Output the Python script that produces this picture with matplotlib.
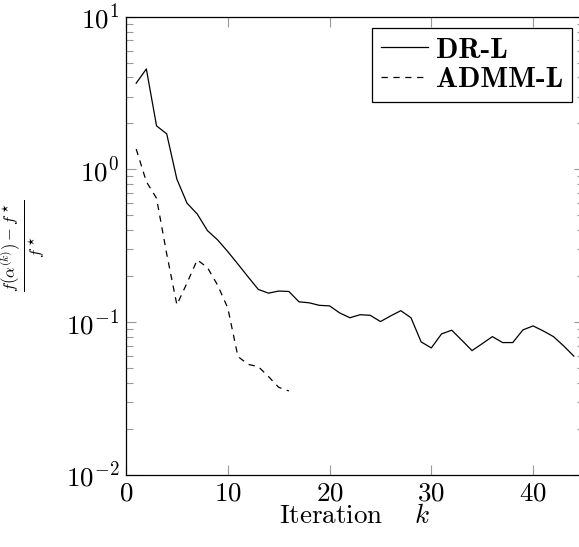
#!/usr/bin/env python3
# -*- coding: utf-8 -*-
import matplotlib
matplotlib.use("Agg")
import matplotlib.pyplot as plt
from matplotlib.ticker import LogLocator, NullFormatter

FONTSIZE = 19.5

plt.rcParams["font.family"] = ["cmr10", "DejaVu Serif"]
plt.rcParams["mathtext.fontset"] = "cm"
plt.rcParams["axes.formatter.use_mathtext"] = True
plt.rcParams["font.size"] = FONTSIZE

# iterations
iters_dr = list(range(1, 45))
iters_admm = list(range(1, 17))

# relative objective gap per iteration
dr_l = [3.67, 4.55, 1.93, 1.71, 0.863, 0.601, 0.511, 0.398, 0.346, 0.290,
        0.240, 0.198, 0.164, 0.155, 0.160, 0.159, 0.136, 0.134, 0.129, 0.128,
        0.115, 0.107, 0.112, 0.111, 0.101, 0.110, 0.119, 0.107, 0.0743, 0.0679,
        0.0838, 0.0887, 0.0762, 0.0652, 0.0724, 0.0805, 0.0736, 0.0736, 0.0891, 0.0946,
        0.0877, 0.0805, 0.0700, 0.0600]
admm_l = [1.36, 0.832, 0.648, 0.280, 0.130, 0.181, 0.256, 0.228, 0.175, 0.124,
          0.0596, 0.0530, 0.0512, 0.0441, 0.0375, 0.0355]

xticks = [0, 10, 20, 30, 40]


def main():
    fig = plt.figure(figsize=(5.79, 5.47), dpi=100)
    ax = fig.add_axes([126 / 579, 1 - 475 / 547, (584 - 126) / 579, (475 - 16.7) / 547])

    ax.plot(iters_dr, dr_l, color="black", lw=0.9, label="DR-L")
    ax.plot(iters_admm, admm_l, color="black", lw=0.9, linestyle=(0, (5, 4.5)), label="ADMM-L")

    ax.set_yscale("log")
    ax.set_ylim(1e-2, 1e1)
    ax.set_xlim(0, 45)
    ax.set_xticks(xticks)
    ax.yaxis.set_major_locator(LogLocator(base=10, numticks=10))
    ax.yaxis.set_minor_locator(LogLocator(base=10, subs=range(2, 10), numticks=20))
    ax.yaxis.set_minor_formatter(NullFormatter())

    ax.tick_params(which="both", direction="in", top=True, right=True, color="#999999",
                   width=0.8, labelsize=FONTSIZE, pad=5)
    ax.tick_params(which="major", length=7.5)
    ax.tick_params(which="minor", length=4.7)
    for s in ax.spines.values():
        s.set_linewidth(0.9)

    ax.set_xlabel(r"Iteration $\quad k$", fontsize=FONTSIZE, labelpad=-1)
    ax.set_ylabel(r"$\frac{f(\alpha^{(k)})-f^\star}{f^\star}$", fontsize=17)
    ax.yaxis.set_label_coords(-0.172, 0.5)

    leg = ax.legend(loc="upper right", fancybox=False, edgecolor="black", framealpha=1,
                    prop={"family": "cmb10", "size": 21}, handlelength=1.6,
                    handletextpad=0.3, borderpad=0.3, labelspacing=0.1, borderaxespad=0.4)
    leg.get_frame().set_linewidth(0.9)

    fig.savefig("out.png", dpi=100)


if __name__ == "__main__":
    main()
